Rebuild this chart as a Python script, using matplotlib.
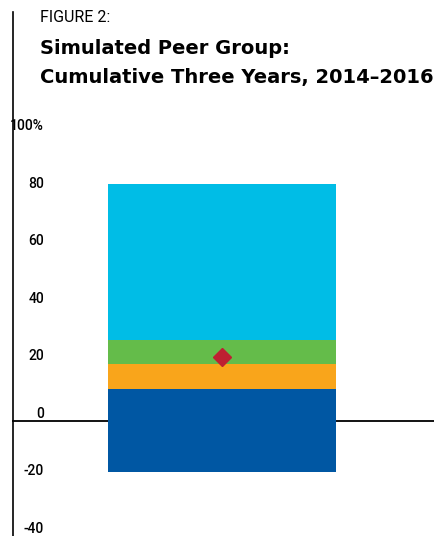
import matplotlib
matplotlib.use('Agg')
import matplotlib.pyplot as plt
from matplotlib.lines import Line2D

# Data (percent, stacked floating bar segments)
segment_bottoms = [-17.7, 11.1, 19.8, 28.1]
segment_tops = [11.1, 19.8, 28.1, 82.5]
segment_colors = ['#0057A3', '#F9A51B', '#64BC4A', '#00BDE6']
marker_value = 22.2
tick_values = [-40, -20, 0, 20, 40, 60, 80, 100]
tick_labels = ['-40', '-20', '0', '20', '40', '60', '80', '100%']

plt.rcParams['font.family'] = ['Roboto', 'DejaVu Sans']

W, H = 434, 536
fig = plt.figure(figsize=(W / 100, H / 100), dpi=100)

# axes: left edge at the vertical rule, spanning to the right edge
ax = fig.add_axes([12 / W, 0, (W - 12) / W, (536 - 100) / H])
ax.set_xlim(-0.553, 0.558)
ax.set_ylim(-39.5, 111.6)

heights = [t - b for b, t in zip(segment_bottoms, segment_tops)]
ax.bar([0] * len(heights), heights, bottom=segment_bottoms, width=0.6,
       color=segment_colors, zorder=3)
ax.plot([0], [marker_value], marker='D', markersize=9, color='#BE2032',
        linestyle='none', zorder=4)
ax.axhline(0, color='black', linewidth=1.3, zorder=2)

for s in ['top', 'right', 'bottom', 'left']:
    ax.spines[s].set_visible(False)
ax.set_xticks([])
ax.set_yticks(tick_values, tick_labels)
ax.tick_params(axis='y', length=0, pad=-23, labelsize=10)
for lab in ax.get_yticklabels():
    lab.set_verticalalignment('bottom')
    lab.set_fontweight('medium')

# vertical rule on the left running through title area
fig.add_artist(Line2D([12.5 / W, 12.5 / W], [0, 1 - 12 / H],
                      transform=fig.transFigure, color='black', linewidth=1.2))

fig.text(40 / W, 1 - 17 / H, 'FIGURE 2:', fontsize=11.5, va='center', ha='left')
fig.text(40 / W, 1 - 48 / H, 'Simulated Peer Group:', fontsize=14,
         fontweight='bold', va='center', ha='left', family='DejaVu Sans')
fig.text(40 / W, 1 - 77 / H, 'Cumulative Three Years, 2014\u20132016', fontsize=14,
         fontweight='bold', va='center', ha='left', family='DejaVu Sans')

fig.savefig('out.png', dpi=100)
